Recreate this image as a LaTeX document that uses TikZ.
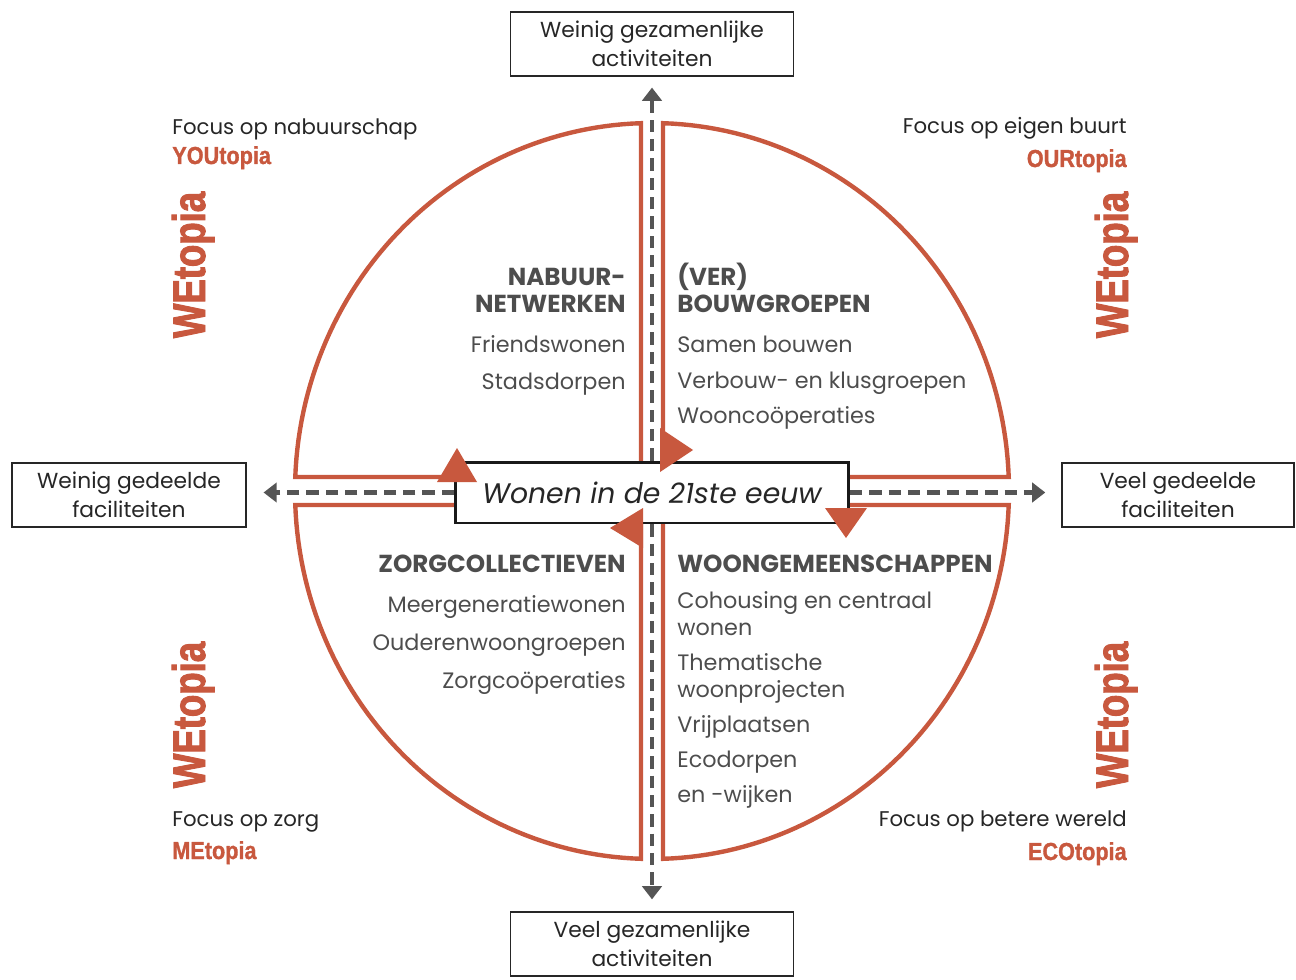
\documentclass[tikz,border=0pt]{standalone}
\usepackage{fontspec}
\setmainfont{Poppins}
\newfontfamily\topiafont[FakeStretch=0.88,FakeBold=1.2]{Liberation Sans Bold}
\newfontfamily\wefont[FakeStretch=0.8,FakeBold=2]{Liberation Sans Bold}
\usetikzlibrary{arrows.meta,positioning}

\definecolor{roest}{RGB}{200,88,62}
\definecolor{grijs}{RGB}{85,85,85}
\definecolor{tekst}{RGB}{77,77,77}

\tikzset{
    kwadrant/.style={draw=roest, line width=2.5pt, line join=miter},
    pijl/.style={grijs, line width=2.6pt, dash pattern=on 7pt off 4pt,
        -{Triangle[width=11pt,length=7.5pt]}},
    asbox/.style={draw=black!85, line width=0.8pt, align=center, inner sep=0pt,
        font=\fontsize{12.4}{16.4}\selectfont, text=black!85},
    hubbox/.style={draw=black!90, line width=1.7pt, fill=white, inner sep=0pt,
        minimum width=7.86cm, minimum height=1.22cm,
        font=\fontsize{16.1}{18}\selectfont\itshape, text=black!85},
    kop/.style={inner sep=0pt, font=\fontsize{14}{16}\selectfont\bfseries, text=tekst},
    item/.style={inner sep=0pt, font=\fontsize{12.7}{15}\selectfont, text=tekst},
    focus/.style={inner sep=0pt, font=\fontsize{12.1}{14}\selectfont, text=black!85},
    topia/.style={inner sep=0pt, font=\topiafont\fontsize{14}{16}\selectfont, text=roest},
    we/.style={inner sep=0pt, rotate=90, anchor=base,
        font=\wefont\fontsize{26}{30}\selectfont, text=roest},
}

\begin{document}
\begin{tikzpicture}[x=0.02cm,y=-0.02cm]

    \useasboundingbox (0,0) rectangle (1296,980);

    %kwadranten
    \draw[kwadrant] (641,477) -- plot[domain=268.23:182.18,samples=60] ({652+357*cos(\x)},{491+368*sin(\x)}) -- cycle;
    \draw[kwadrant] (663,477) -- plot[domain=271.77:357.82,samples=60] ({652+357*cos(\x)},{491+368*sin(\x)}) -- cycle;
    \draw[kwadrant] (663,505) -- plot[domain=2.18:88.23,samples=60] ({652+357*cos(\x)},{491+368*sin(\x)}) -- cycle;
    \draw[kwadrant] (641,505) -- plot[domain=91.77:177.82,samples=60] ({652+357*cos(\x)},{491+368*sin(\x)}) -- cycle;

    %assen
    \node[asbox, minimum width=5.66cm, minimum height=1.28cm] (top) at (652,44) {Weinig gezamenlijke\\activiteiten};
    \node[asbox, minimum width=5.66cm, minimum height=1.28cm] (bottom) at (652,944) {Veel gezamenlijke\\activiteiten};
    \node[asbox, minimum width=4.68cm, minimum height=1.28cm] (left) at (129,495) {Weinig gedeelde\\faciliteiten};
    \node[asbox, minimum width=4.64cm, minimum height=1.28cm] (right) at (1178,495) {Veel gedeelde\\faciliteiten};

    \node[hubbox] (hub) at (652,492.5) {Wonen in de 21ste eeuw};

    \draw[pijl, shorten >=6.2pt] (hub.north) -- (hub.north |- top.south);
    \draw[pijl, shorten >=6.8pt] (hub.south) -- (hub.south |- bottom.north);
    \draw[pijl, shorten >=9.6pt] (hub.west) -- (hub.west -| left.east);
    \draw[pijl, shorten >=9.1pt] (hub.east) -- (hub.east -| right.west);

    %draaiing
    \fill[roest] (457,448) -- (437,482) -- (477,482) -- cycle;
    \fill[roest] (693,450) -- (660,428) -- (660,472) -- cycle;
    \fill[roest] (846,538) -- (825,508) -- (867,508) -- cycle;
    \fill[roest] (610,528) -- (643,508) -- (643,548) -- cycle;

    %linksboven
    \node[kop, anchor=base east] (nabuur) at (626,285) {NABUUR-};
    \node[kop, anchor=base east] (netwerk) at (626,313) {NETWERKEN};
    \foreach \y/\t in {352/Friendswonen, 389/Stadsdorpen}
        \node[item, anchor=base east] (lb\y) at (626,\y) {\t};

    %rechtsboven
    \node[kop, anchor=base west] (ver) at (677,285) {(VER)};
    \node[kop, anchor=base west] (bouw) at (677,313) {BOUWGROEPEN};
    \foreach \y/\t in {352/Samen bouwen, 388/Verbouw- en klusgroepen, 423/Wooncoöperaties}
        \node[item, anchor=base west] (rb\y) at (677,\y) {\t};

    %linksonder
    \node[kop, anchor=base east] (zorg) at (626,572) {ZORGCOLLECTIEVEN};
    \foreach \y/\t in {612/Meergeneratiewonen, 650/Ouderenwoongroepen, 688/Zorgcoöperaties}
        \node[item, anchor=base east] (lo\y) at (626,\y) {\t};

    %rechtsonder
    \node[kop, anchor=base west] (woon) at (677,572) {WOONGEMEENSCHAPPEN};
    \foreach \y/\t in {608/Cohousing en centraal, 635/wonen, 670/Thematische, 697/woonprojecten,
        732/Vrijplaatsen, 767/Ecodorpen, 802/en -wijken}
        \node[item, anchor=base west] (ro\y) at (677,\y) {\t};

    %hoeken
    \node[focus, anchor=base west] (fyou) at (172,135) {Focus op nabuurschap};
    \node[topia, anchor=base west] (you) at (172,164) {YOUtopia};
    \node[focus, anchor=base east] (four) at (1127,133) {Focus op eigen buurt};
    \node[topia, anchor=base east] (our) at (1127,167) {OURtopia};
    \node[focus, anchor=base west] (fme) at (172,826) {Focus op zorg};
    \node[topia, anchor=base west] (me) at (172,859) {MEtopia};
    \node[focus, anchor=base east] (feco) at (1127,826) {Focus op betere wereld};
    \node[topia, anchor=base east] (eco) at (1127,860) {ECOtopia};

    \foreach \px/\py/\n in {205/265/lb, 1128/265/rb, 205/715/lo, 1128/715/ro}
        \node[we] (we\n) at (\px,\py) {WEtopia};

\end{tikzpicture}
\end{document}
